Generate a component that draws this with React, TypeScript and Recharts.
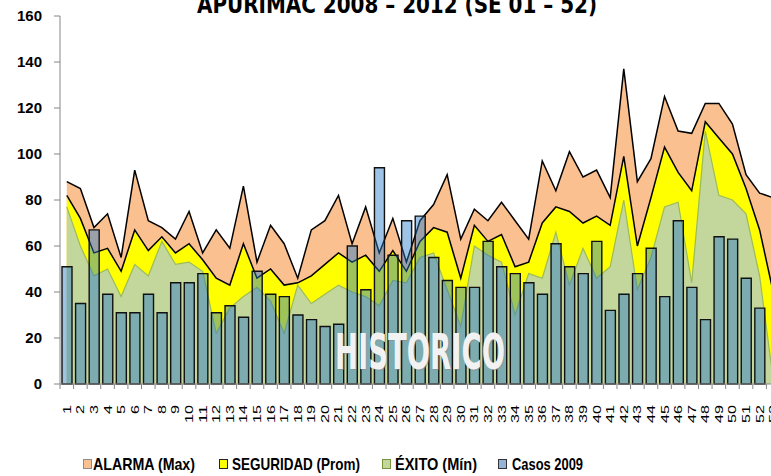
import React from 'react';
import { ComposedChart, Area, Bar, XAxis, YAxis } from 'recharts';

const weeks: string[] = [
  '1','2','3','4','5','6','7','8','9','10','11','12','13','14','15','16','17','18','19','20',
  '21','22','23','24','25','26','27','28','29','30','31','32','33','34','35','36','37','38','39','40',
  '41','42','43','44','45','46','47','48','49','50','51','52','53',
];

const alarmaMax: number[] = [
  88, 85, 68, 74, 55, 93, 71, 68, 63, 75, 57, 67, 59, 86, 53, 69, 61, 46, 67, 71,
  82, 61, 77, 57, 72, 53, 71, 78, 91, 63, 76, 71, 79, 71, 63, 97, 84, 101, 90, 93,
  81, 137, 88, 98, 125, 110, 109, 122, 122, 113, 91, 83, 81,
];

const seguridadProm: number[] = [
  82, 72, 57, 59, 49, 67, 58, 64, 57, 61, 54, 46, 43, 61, 46, 50, 43, 44, 47, 52,
  57, 53, 56, 49, 58, 49, 62, 68, 66, 46, 69, 62, 65, 51, 53, 70, 77, 75, 70, 73,
  69, 99, 60, 81, 103, 92, 84, 114, 107, 100, 85, 67, 40,
];

const exitoMin: number[] = [
  77, 60, 47, 50, 38, 52, 47, 62, 52, 53, 49, 22, 33, 38, 42, 36, 22, 43, 35, 39,
  43, 40, 38, 34, 45, 44, 55, 57, 41, 25, 60, 56, 53, 30, 48, 46, 66, 43, 59, 46,
  51, 80, 41, 55, 77, 79, 44, 110, 82, 80, 74, 47, 2,
];

const casos2009: (number | null)[] = [
  51, 35, 67, 39, 31, 31, 39, 31, 44, 44, 48, 31, 34, 29, 49, 39, 38, 30, 28, 25,
  26, 60, 41, 94, 56, 71, 73, 55, 45, 42, 42, 62, 51, 48, 44, 39, 61, 51, 48, 62,
  32, 39, 48, 59, 38, 71, 42, 28, 64, 63, 46, 33, null,
];

const yTicks: number[] = [0, 20, 40, 60, 80, 100, 120, 140, 160];

const titleText = 'APURIMAC 2008 – 2012 (SE 01 – 52)';
const watermarkText = 'HISTORICO';
const legendLabels: string[] = ['ALARMA (Max)', 'SEGURIDAD (Prom)', 'ÉXITO (Mín)', 'Casos 2009'];

const C_MAX = '#FAC090';
const C_PROM = '#FFFF00';
const C_MIN = '#C3D69B';
const C_MIN_LINE = '#9BBB59';
const C_BAR = 'rgb(38,122,200)';
const C_BAR_LEGEND = '#95B3D7';
const AXIS = '#868686';

const data = weeks.map((w, i) => ({
  week: w,
  max: alarmaMax[i],
  prom: seguridadProm[i],
  min: exitoMin[i],
  casos: casos2009[i],
}));

const lastWeek = weeks[weeks.length - 1];

const WeekTick = (props: any) => {
  const { x, y, payload } = props;
  const half = payload && typeof payload.offset === 'number' && payload.offset > 0 ? payload.offset : 6.79;
  const label = String(payload.value);
  const ty = y + 21;
  return (
    <g>
      <line x1={x - half} y1={y} x2={x - half} y2={y + 5} stroke={AXIS} strokeWidth={1} />
      {label === lastWeek ? (
        <line x1={x + half} y1={y} x2={x + half} y2={y + 5} stroke={AXIS} strokeWidth={1} />
      ) : null}
      <text
        x={x}
        y={ty}
        transform={`rotate(-90 ${x} ${ty})`}
        textAnchor="end"
        dominantBaseline="central"
        fontSize={11}
        fontWeight="normal"
        fontFamily="'Liberation Sans', Arial, sans-serif"
        textLength={label.length * 9}
        lengthAdjust="spacingAndGlyphs"
        fill="#000"
      >
        {label}
      </text>
    </g>
  );
};

const legendItems = [
  { label: legendLabels[0], fill: C_MAX, stroke: '#8c8c8c', sx: 83, tx: 93, tw: 102 },
  { label: legendLabels[1], fill: C_PROM, stroke: '#222', sx: 219, tx: 232, tw: 128 },
  { label: legendLabels[2], fill: C_MIN, stroke: '#77933C', sx: 382, tx: 395, tw: 82 },
  { label: legendLabels[3], fill: C_BAR_LEGEND, stroke: '#333', sx: 498, tx: 512, tw: 71 },
];

export default function App() {
  return (
    <div
      style={{
        position: 'absolute',
        left: 0,
        top: 0,
        width: 771,
        height: 476,
        overflow: 'hidden',
        background: '#fff',
      }}
    >
      <div style={{ position: 'absolute', left: 0, top: 0 }}>
        <ComposedChart
          width={790}
          height={476}
          data={data}
          margin={{ top: 16, right: 10, bottom: 0, left: 0 }}
          barSize={10}
        >
          <XAxis
            dataKey="week"
            height={92}
            interval={0}
            tick={<WeekTick />}
            tickLine={false}
            tickSize={0}
            tickMargin={0}
            axisLine={{ stroke: AXIS, strokeWidth: 1 }}
          />
          <YAxis
            width={60}
            domain={[0, 160]}
            ticks={yTicks}
            interval={0}
            tickSize={6}
            tickMargin={12}
            axisLine={{ stroke: AXIS, strokeWidth: 1 }}
            tickLine={{ stroke: AXIS, strokeWidth: 1 }}
            tick={{ fill: '#000', fontSize: 15, fontWeight: 'bold', fontFamily: "'Liberation Sans', Arial, sans-serif" }}
          />
          <Area
            type="linear"
            dataKey="max"
            fill={C_MAX}
            fillOpacity={1}
            stroke="#000"
            strokeWidth={1.5}
            dot={false}
            activeDot={false}
            isAnimationActive={false}
          />
          <Area
            type="linear"
            dataKey="prom"
            fill={C_PROM}
            fillOpacity={1}
            stroke="#000"
            strokeWidth={1.5}
            dot={false}
            activeDot={false}
            isAnimationActive={false}
          />
          <Area
            type="linear"
            dataKey="min"
            fill={C_MIN}
            fillOpacity={1}
            stroke={C_MIN_LINE}
            strokeWidth={1.2}
            dot={false}
            activeDot={false}
            isAnimationActive={false}
          />
          <Bar
            dataKey="casos"
            fill={C_BAR}
            fillOpacity={0.45}
            stroke="#111"
            strokeWidth={1.4}
            isAnimationActive={false}
          />
        </ComposedChart>
      </div>
      <svg
        width={771}
        height={476}
        style={{ position: 'absolute', left: 0, top: 0, pointerEvents: 'none' }}
      >
        <text
          x={397}
          y={13}
          textAnchor="middle"
          fontSize={25}
          fontWeight="bold"
          fontFamily="'DejaVu Sans Condensed', 'DejaVu Sans', sans-serif"
          textLength={400}
          lengthAdjust="spacingAndGlyphs"
          fill="#000"
        >
          {titleText}
        </text>
        <text
          x={336}
          y={370}
          fontSize={49}
          fontWeight="bold"
          fontFamily="'DejaVu Sans Condensed', 'DejaVu Sans', sans-serif"
          textLength={170}
          lengthAdjust="spacingAndGlyphs"
          fill="#8a8a8a"
          fillOpacity={0.6}
        >
          {watermarkText}
        </text>
        <text
          x={335}
          y={369}
          fontSize={49}
          fontWeight="bold"
          fontFamily="'DejaVu Sans Condensed', 'DejaVu Sans', sans-serif"
          textLength={170}
          lengthAdjust="spacingAndGlyphs"
          fill="#F2F2F2"
        >
          {watermarkText}
        </text>
        {legendItems.map((it) => (
          <g key={it.label}>
            <rect x={it.sx + 0.5} y={459.5} width={8} height={9} fill={it.fill} stroke={it.stroke} strokeWidth={1} />
            <text
              x={it.tx}
              y={470}
              fontSize={17}
              fontWeight="bold"
              fontFamily="'Liberation Sans Narrow', 'Liberation Sans', Arial, sans-serif"
              textLength={it.tw}
              lengthAdjust="spacingAndGlyphs"
              fill="#000"
            >
              {it.label}
            </text>
          </g>
        ))}
      </svg>
    </div>
  );
}
